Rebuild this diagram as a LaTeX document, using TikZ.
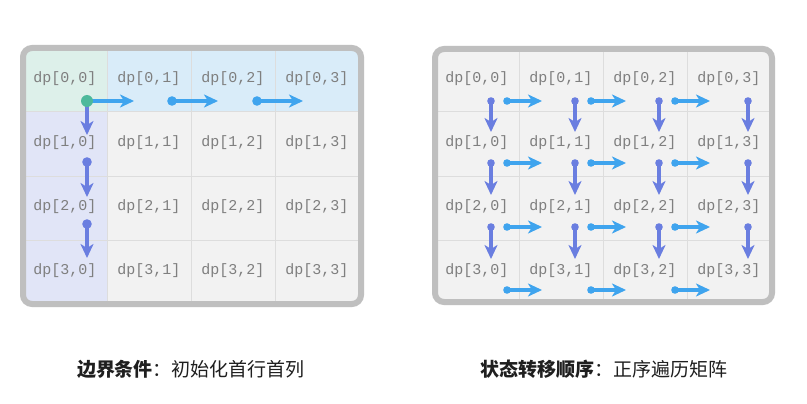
\documentclass[tikz,border=0pt]{standalone}
\usepackage{fontspec}
\setmonofont{Liberation Mono}
\newfontfamily\cjk{Noto Sans CJK SC}
\usetikzlibrary{arrows.meta}
\definecolor{cellbg}{HTML}{F2F2F2}
\definecolor{gridln}{HTML}{DDDDDD}
\definecolor{frame}{HTML}{BFBFBF}
\definecolor{txt}{HTML}{7F7F7F}
\definecolor{topbg}{HTML}{D9ECF9}
\definecolor{leftbg}{HTML}{E1E5F7}
\definecolor{cornerbg}{HTML}{DDF0EA}
\definecolor{hblue}{HTML}{3FA4EE}
\definecolor{vpurp}{HTML}{6A7EE0}
\definecolor{dotgreen}{HTML}{4DB99B}
\definecolor{captxt}{HTML}{1F1F1F}
\tikzset{
  celltext/.style={font=\ttfamily\fontsize{15}{15}\selectfont, text=txt, inner sep=0pt},
  harrow/.style={draw=hblue, line width=3.2pt, -{Stealth[length=14pt,width=13pt,inset=4pt]}},
  varrow/.style={draw=vpurp, line width=3.2pt, -{Stealth[length=14pt,width=13pt,inset=4pt]}},
  caption/.style={font=\cjk\fontsize{19}{19}\selectfont, text=captxt, inner sep=0pt},
  frameline/.style={draw=frame, line width=6pt, rounded corners=9pt},
}
\begin{document}
\begin{tikzpicture}[x=1pt,y=-1pt]
\useasboundingbox[fill=white] (0,0) rectangle (807,404);
% ---------------- left panel ----------------
\fill[cellbg, rounded corners=8pt] (23,48) rectangle (361,304);
\fill[topbg] (107,50) -- (359,50) -- (359,112) -- (107,112) -- cycle;
\fill[leftbg] (25,112) rectangle (107,302);
\fill[cornerbg] (25,50) rectangle (107,112);
\foreach \x in {107,191,275} \draw[gridln, line width=1pt] (\x,48) -- (\x,304);
\foreach \y in {112,176,240} \draw[gridln, line width=1pt] (23,\y) -- (361,\y);
\draw[frameline] (23,48) rectangle (361,304);
\foreach \r/\yt in {0/48,1/112,2/176,3/240}{
  \foreach \c/\xl in {0/23,1/107,2/191,3/275}{
    \node[celltext] (L\r\c) at (\xl+42,\yt+31) {dp[\r,\c]};
  }
}
% left arrows
\coordinate (LO) at (87,101);
\coordinate (LH1s) at (172,101); \coordinate (LH2s) at (257,101);
\coordinate (LH0e) at (134,101); \coordinate (LH1e) at (218,101); \coordinate (LH2e) at (303,101);
\coordinate (LV1s) at (87,162); \coordinate (LV2s) at (87,224);
\coordinate (LV0e) at (87,135); \coordinate (LV1e) at (87,197); \coordinate (LV2e) at (87,258);
\draw[harrow] (LO) -- (LH0e);
\draw[harrow] (LH1s) -- (LH1e);
\draw[harrow] (LH2s) -- (LH2e);
\draw[varrow] (LO) -- (LV0e);
\draw[varrow] (LV1s) -- (LV1e);
\draw[varrow] (LV2s) -- (LV2e);
\fill[hblue] (LH1s) circle (4.8pt) (LH2s) circle (4.8pt);
\fill[vpurp] (LV1s) circle (4.8pt) (LV2s) circle (4.8pt);
\fill[dotgreen] (LO) circle (6pt);
% ---------------- right panel ----------------
\fill[cellbg, rounded corners=8pt] (435,49) rectangle (772,302);
\foreach \x in {519,603,687} \draw[gridln, line width=1pt] (\x,49) -- (\x,302);
\foreach \y in {112,176,240} \draw[gridln, line width=1pt] (435,\y) -- (772,\y);
\draw[frameline] (435,49) rectangle (772,302);
\foreach \r/\yt in {0/48,1/112,2/176,3/240}{
  \foreach \c/\xl in {0/435,1/519,2/603,3/687}{
    \node[celltext] (R\r\c) at (\xl+42,\yt+31) {dp[\r,\c]};
  }
}
% vertical arrows (rows 0-2)
\foreach \r/\ys/\ye in {0/101/132,1/163/195,2/227/259}{
  \foreach \c/\xx in {0/491,1/575,2/659,3/748}{
    \coordinate (RVs\r\c) at (\xx,\ys);
    \coordinate (RVe\r\c) at (\xx,\ye);
    \draw[varrow] (RVs\r\c) -- (RVe\r\c);
    \fill[vpurp] (RVs\r\c) circle (3.8pt);
  }
}
% horizontal arrows (rows 0-3)
\foreach \r/\yy in {0/101,1/163,2/227,3/290}{
  \foreach \c/\xx in {0/519,1/603,2/687}{
    \coordinate (RHs\r\c) at (\xx-12,\yy);
    \coordinate (RHe\r\c) at (\xx+23,\yy);
    \draw[harrow] (RHs\r\c) -- (RHe\r\c);
    \fill[hblue] (RHs\r\c) circle (3.8pt);
  }
}
% ---------------- captions ----------------
\node[caption] (capL) at (191,369) {\textbf{边界条件}：初始化首行首列};
\node[caption] (capR) at (604,369) {\textbf{状态转移顺序}：正序遍历矩阵};
\end{tikzpicture}
\end{document}
